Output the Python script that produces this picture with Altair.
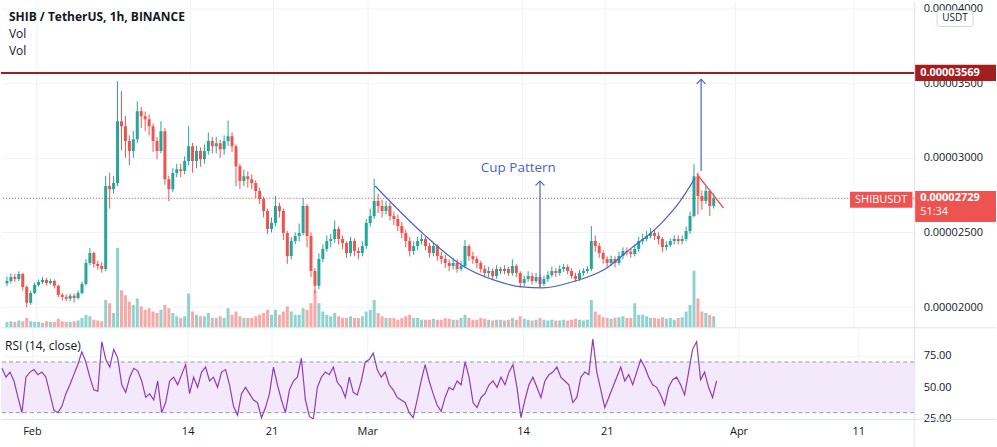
import altair as alt
import pandas as pd

# ---------------- data (prices in units of 1e-5 USDT, 8-hour candles) ----------------
first_open = 2.160
close = [
    2.175, 2.202,
    2.188, 2.222, 2.135,
    2.028, 2.095, 2.148,
    2.168, 2.182, 2.162,
    2.175, 2.142, 2.081,
    2.068, 2.055, 2.075,
    2.061, 2.095, 2.155,
    2.295, 2.362, 2.289,
    2.275, 2.255, 2.811,
    2.790, 2.831, 3.245,
    3.212, 3.112, 3.045,
    3.125, 3.312, 3.279,
    3.259, 3.212, 3.112,
    3.045, 3.178, 2.857,
    2.790, 2.898, 2.924,
    2.911, 2.978, 3.078,
    2.978, 3.045, 2.991,
    3.045, 3.112, 3.078,
    3.098, 3.058, 3.112,
    3.145, 3.078, 2.944,
    2.844, 2.877, 2.857,
    2.831, 2.777, 2.724,
    2.643, 2.523, 2.563,
    2.677, 2.643, 2.496,
    2.342, 2.443, 2.476,
    2.496, 2.677, 2.476,
    2.242, 2.142, 2.322,
    2.389, 2.443, 2.456,
    2.523, 2.456, 2.429,
    2.362, 2.443, 2.376,
    2.362, 2.409, 2.563,
    2.610, 2.710, 2.677,
    2.643, 2.677, 2.610,
    2.590, 2.543, 2.496,
    2.443, 2.376, 2.409,
    2.443, 2.456, 2.409,
    2.362, 2.409, 2.342,
    2.322, 2.295, 2.275,
    2.295, 2.255, 2.275,
    2.409, 2.342, 2.322,
    2.295, 2.255, 2.229,
    2.242, 2.208, 2.255,
    2.242, 2.255, 2.229,
    2.275, 2.229, 2.162,
    2.188, 2.208, 2.175,
    2.202, 2.155, 2.188,
    2.215, 2.242, 2.229,
    2.255, 2.269, 2.242,
    2.208, 2.188, 2.229,
    2.242, 2.255, 2.443,
    2.409, 2.362, 2.322,
    2.295, 2.322, 2.295,
    2.342, 2.376, 2.370,
    2.356, 2.389, 2.443,
    2.456, 2.476, 2.496,
    2.476, 2.456, 2.402,
    2.416, 2.443, 2.456,
    2.443, 2.456, 2.510,
    2.610, 2.877, 2.744,
    2.710, 2.777, 2.677,
    2.729,
]
high = [
    2.205, 2.225,
    2.222, 2.240, 2.230,
    2.145, 2.110, 2.165,
    2.185, 2.200, 2.195,
    2.190, 2.185, 2.150,
    2.095, 2.085, 2.090,
    2.090, 2.110, 2.170,
    2.320, 2.395, 2.370,
    2.310, 2.300, 2.880,
    2.900, 2.880, 3.513,
    3.446, 3.280, 3.150,
    3.180, 3.379, 3.340,
    3.310, 3.290, 3.230,
    3.140, 3.245, 3.200,
    2.880, 2.930, 2.960,
    2.960, 3.010, 3.212,
    3.100, 3.080, 3.070,
    3.090, 3.170, 3.140,
    3.140, 3.120, 3.150,
    3.250, 3.170, 3.090,
    2.960, 2.920, 2.910,
    2.890, 2.850, 2.800,
    2.740, 2.660, 2.600,
    2.744, 2.700, 2.660,
    2.510, 2.470, 2.500,
    2.560, 2.730, 2.690,
    2.500, 2.260, 2.360,
    2.420, 2.480, 2.490,
    2.580, 2.540, 2.480,
    2.440, 2.470, 2.460,
    2.400, 2.440, 2.590,
    2.660, 2.860, 2.760,
    2.720, 2.710, 2.700,
    2.640, 2.620, 2.570,
    2.520, 2.470, 2.440,
    2.470, 2.490, 2.470,
    2.430, 2.430, 2.420,
    2.370, 2.350, 2.320,
    2.330, 2.320, 2.310,
    2.450, 2.420, 2.370,
    2.340, 2.310, 2.280,
    2.270, 2.260, 2.280,
    2.270, 2.280, 2.270,
    2.320, 2.290, 2.240,
    2.210, 2.240, 2.230,
    2.230, 2.220, 2.210,
    2.240, 2.270, 2.260,
    2.280, 2.290, 2.285,
    2.260, 2.230, 2.250,
    2.260, 2.275, 2.543,
    2.480, 2.430, 2.380,
    2.340, 2.345, 2.340,
    2.370, 2.400, 2.400,
    2.390, 2.420, 2.470,
    2.490, 2.510, 2.530,
    2.520, 2.500, 2.470,
    2.440, 2.460, 2.480,
    2.480, 2.480, 2.540,
    2.640, 2.957, 2.900,
    2.780, 2.810, 2.790,
    2.760,
]
low = [
    2.140, 2.160,
    2.170, 2.175, 2.110,
    2.000, 2.015, 2.085,
    2.135, 2.155, 2.145,
    2.150, 2.125, 2.065,
    2.045, 2.040, 2.040,
    2.030, 2.050, 2.085,
    2.145, 2.280, 2.265,
    2.250, 2.230, 2.240,
    2.660, 2.760, 2.810,
    3.050, 3.000, 2.950,
    3.000, 3.100, 3.200,
    3.180, 3.150, 3.040,
    2.990, 3.030, 2.820,
    2.710, 2.770, 2.870,
    2.870, 2.890, 2.950,
    2.900, 2.930, 2.940,
    2.960, 3.020, 3.030,
    3.030, 3.000, 3.020,
    3.080, 3.040, 2.810,
    2.790, 2.810, 2.800,
    2.790, 2.730, 2.690,
    2.600, 2.490, 2.500,
    2.540, 2.600, 2.450,
    2.290, 2.320, 2.420,
    2.440, 2.480, 2.400,
    2.200, 2.090, 2.120,
    2.300, 2.370, 2.400,
    2.430, 2.420, 2.390,
    2.330, 2.340, 2.340,
    2.320, 2.340, 2.390,
    2.540, 2.590, 2.630,
    2.600, 2.620, 2.580,
    2.550, 2.510, 2.460,
    2.400, 2.340, 2.350,
    2.380, 2.420, 2.380,
    2.330, 2.340, 2.310,
    2.290, 2.260, 2.240,
    2.250, 2.230, 2.240,
    2.260, 2.310, 2.290,
    2.260, 2.230, 2.200,
    2.200, 2.180, 2.190,
    2.220, 2.220, 2.210,
    2.210, 2.200, 2.130,
    2.140, 2.170, 2.150,
    2.160, 2.135, 2.140,
    2.170, 2.200, 2.200,
    2.210, 2.235, 2.220,
    2.190, 2.170, 2.175,
    2.210, 2.225, 2.240,
    2.370, 2.330, 2.290,
    2.270, 2.275, 2.265,
    2.280, 2.320, 2.345,
    2.330, 2.340, 2.370,
    2.420, 2.440, 2.460,
    2.450, 2.420, 2.370,
    2.380, 2.400, 2.420,
    2.420, 2.420, 2.440,
    2.490, 2.600, 2.620,
    2.650, 2.690, 2.610,
    2.660,
]
volume = [
    7, 8,
    7, 9, 8,
    12, 8, 7,
    7, 6, 8,
    7, 7, 11,
    8, 7, 7,
    8, 9, 12,
    16, 14, 10,
    9, 8, 34,
    30, 18, 98,
    46, 40, 32,
    28, 36, 26,
    22, 24, 20,
    18, 22, 28,
    24, 18, 14,
    12, 14, 42,
    20, 16, 14,
    14, 18, 12,
    12, 14, 12,
    24, 16, 20,
    14, 12, 12,
    12, 14, 16,
    18, 22, 16,
    22, 16, 20,
    26, 20, 16,
    16, 24, 22,
    30, 46, 30,
    20, 16, 14,
    18, 14, 12,
    12, 14, 12,
    12, 14, 20,
    22, 34, 18,
    14, 12, 12,
    12, 10, 12,
    14, 16, 12,
    12, 10, 10,
    10, 11, 10,
    10, 12, 11,
    10, 10, 12,
    16, 12, 10,
    10, 12, 11,
    10, 9, 10,
    10, 9, 10,
    12, 10, 14,
    11, 10, 9,
    10, 12, 10,
    9, 10, 9,
    9, 10, 9,
    10, 11, 10,
    9, 10, 34,
    20, 16, 13,
    12, 11, 12,
    13, 14, 12,
    12, 30, 16,
    16, 14, 12,
    12, 11, 13,
    11, 12, 10,
    12, 13, 20,
    28, 70, 36,
    20, 18, 16,
    14,
]
rsi = [
    65, 58,
    62, 55, 42,
    30, 58, 62,
    64, 60, 62,
    58, 45, 32,
    30, 35, 45,
    52, 60, 68,
    78, 70, 58,
    48, 47, 86,
    72, 66, 80,
    73, 52, 46,
    58, 65, 63,
    55, 42, 45,
    40, 55, 30,
    38, 55, 58,
    52, 60, 68,
    45, 58, 50,
    62, 66, 55,
    58, 50, 62,
    64, 52, 35,
    28, 45, 50,
    45, 40, 38,
    26, 34, 45,
    66, 52, 40,
    30, 48, 55,
    58, 73, 40,
    27, 25, 50,
    58, 62, 60,
    66, 54, 50,
    42, 58, 46,
    44, 55, 70,
    72, 77, 64,
    58, 62, 52,
    48, 42, 40,
    38, 30, 26,
    40, 55, 68,
    55, 45, 36,
    31, 42, 50,
    48, 55, 52,
    70, 58, 38,
    34, 42, 45,
    52, 55, 50,
    58, 52, 62,
    68, 50, 26,
    40, 52, 58,
    50, 42, 55,
    60, 62, 66,
    58, 55, 52,
    38, 42, 58,
    62, 60, 88,
    62, 48, 34,
    42, 50, 58,
    66, 55, 60,
    52, 62, 72,
    66, 58, 52,
    50, 44, 36,
    50, 56, 58,
    52, 44, 62,
    80, 86, 56,
    62, 50, 42,
    55,
]

# drawings (day = days since 1 Feb 2021, price in 1e-5)
cup_day = [28.58, 32.67, 36.0, 38.83, 41.0, 42.67, 45.5, 48.0, 49.92, 52.67, 54.33, 55.58]
cup_price = [2.811, 2.489, 2.275, 2.175, 2.135, 2.128, 2.175, 2.255, 2.376, 2.556, 2.710, 2.864]
arrow_day = [42.5, 56.1]
arrow_from = [2.128, 2.911]
arrow_to = [2.844, 3.526]
trend_day = [55.75, 58.0]
trend_price = [2.891, 2.663]
resistance = 3.569
last_price = 2.729

tick_days = [0, 13, 20, 28, 41, 48, 59, 69]
tick_labels = ["Feb", "14", "21", "Mar", "14", "21", "Apr", "11"]
price_ticks = [2.0, 2.5, 3.0, 3.5, 4.0]
rsi_ticks = [25, 50, 75]

# ---------------- build ----------------
n = min(len(close), len(high), len(low), len(volume), len(rsi))
close, high, low, volume, rsi = close[:n], high[:n], low[:n], volume[:n], rsi[:n]
times = pd.date_range("2021-01-29 08:00", periods=n, freq="8h")
day = ((times + pd.Timedelta(hours=4)) - pd.Timestamp("2021-02-01")) / pd.Timedelta(days=1)
opens = [first_open] + close[:-1]
df = pd.DataFrame({"day": day, "open": opens, "close": close, "high": high,
                   "low": low, "volume": volume, "rsi": rsi})
df["dir"] = ["up" if c >= o else "down" for o, c in zip(opens, close)]

FONT = "Open Sans"
UP, DOWN = "#26a69a", "#ef5350"
BLUE = "#4a62cc"
W, H_MAIN, H_RSI = 915, 327, 92

xs = alt.Scale(domain=[-31 / 12, 884 / 12], nice=False, zero=False)
PS = alt.Scale(domain=[1.861, 4.048], nice=False, zero=False)
RS = alt.Scale(domain=[24.5, 97], nice=False, zero=False)
xenc = alt.X("day:Q", scale=xs, axis=None)
cenc = alt.Color("dir:N", scale=alt.Scale(domain=["up", "down"], range=[UP, DOWN]), legend=None)

price_axis = alt.Axis(orient="right", values=price_ticks,
                      labelExpr="'0.0000' + format(datum.value*1000, 'd')",
                      grid=True, gridColor="#f0f3fa", ticks=False, domain=True,
                      domainColor="#e0e3eb", labelFont=FONT, labelFontSize=11,
                      labelColor="#131722", labelPadding=9, title=None)

one = pd.DataFrame({"k": [0]})
base = alt.Chart(df)

grid_main = alt.Chart(pd.DataFrame({"day": tick_days})).mark_rule(
    color="#f0f3fa", strokeWidth=1).encode(x=xenc)

vol = base.mark_bar(size=3, opacity=0.5, clip=True).encode(
    x=xenc, y=alt.Y("volume:Q", scale=alt.Scale(domain=[0, 400]), axis=None), color=cenc)

wick = base.mark_rule(strokeWidth=1, clip=True).encode(
    x=xenc, y=alt.Y("low:Q", scale=PS, axis=price_axis, title=None), y2="high:Q", color=cenc)
body = base.mark_bar(size=3, clip=True).encode(
    x=xenc, y=alt.Y("open:Q", scale=PS, title=None), y2="close:Q", color=cenc)

res_line = alt.Chart(pd.DataFrame({"p": [resistance]})).mark_rule(
    color="#a31f1f", strokeWidth=2).encode(y=alt.Y("p:Q", scale=PS, title=None))
last_line = alt.Chart(pd.DataFrame({"p": [last_price]})).mark_rule(
    color="#c24040", strokeWidth=1, strokeDash=[1, 2]).encode(y=alt.Y("p:Q", scale=PS, title=None))

cup = alt.Chart(pd.DataFrame({"day": cup_day, "p": cup_price})).mark_line(
    color=BLUE, strokeWidth=1.2, interpolate="monotone").encode(
    x=xenc, y=alt.Y("p:Q", scale=PS, title=None))

adf = pd.DataFrame({"day": arrow_day, "a": arrow_from, "b": arrow_to})
arrows = alt.Chart(adf).mark_rule(color=BLUE, strokeWidth=1.2).encode(
    x=xenc, y=alt.Y("a:Q", scale=PS, title=None), y2="b:Q")
heads = alt.Chart(adf).mark_point(shape="M -1 1 L 0 0 L 1 1", filled=False, size=81,
                                  color=BLUE, strokeWidth=1.2, opacity=1).encode(
    x=xenc, y=alt.Y("b:Q", scale=PS, title=None))

trend = alt.Chart(pd.DataFrame({"day": trend_day, "p": trend_price})).mark_line(
    color="#ef5350", strokeWidth=1.5).encode(x=xenc, y=alt.Y("p:Q", scale=PS, title=None))

cup_text = alt.Chart(pd.DataFrame({"day": [40.67], "p": [2.929], "t": ["Cup Pattern"]})).mark_text(
    font=FONT, fontSize=13.5, color=BLUE).encode(x=xenc, y=alt.Y("p:Q", scale=PS, title=None), text="t:N")


def label_txt(v):
    return "0.0000" + str(int(round(v * 1000)))


tag_df = pd.DataFrame({"p": [resistance], "t": [label_txt(resistance)]})
tagA = alt.Chart(tag_df).mark_point(shape="M -1 -0.2 L 1 -0.2 L 1 0.2 L -1 0.2 Z", filled=True,
                                    size=6561, color="#a31f1f", opacity=1).encode(
    x=alt.value(956.5), y=alt.Y("p:Q", scale=PS, title=None))
tagA_t = alt.Chart(tag_df).mark_text(font=FONT, fontSize=11, fontWeight="bold", color="white",
                                     align="left", baseline="middle").encode(
    x=alt.value(921), y=alt.Y("p:Q", scale=PS, title=None), text="t:N")

last_df = pd.DataFrame({"p": [last_price], "t": [label_txt(last_price)], "c": ["51:34"], "s": ["SHIBUSDT"]})
tagB = alt.Chart(last_df).mark_point(shape="M -1 -0.18 L 1 -0.18 L 1 0.59 L -1 0.59 Z", filled=True,
                                     size=6561, color="#ef5350", opacity=1).encode(
    x=alt.value(956.5), y=alt.Y("p:Q", scale=PS, title=None))
tagB_t = alt.Chart(last_df).mark_text(font=FONT, fontSize=11, fontWeight="bold", color="white",
                                      align="left", baseline="middle").encode(
    x=alt.value(921), y=alt.Y("p:Q", scale=PS, title=None), text="t:N")
tagB_c = alt.Chart(last_df).mark_text(font=FONT, fontSize=11, color="white",
                                      align="left", baseline="middle", dy=14).encode(
    x=alt.value(921), y=alt.Y("p:Q", scale=PS, title=None), text="c:N")
tagC = alt.Chart(last_df).mark_point(shape="M -1 -0.21 L 1 -0.21 L 1 0.30 L -1 0.30 Z", filled=True,
                                     size=3919, color="#ef5350", opacity=1).encode(
    x=alt.value(882), y=alt.Y("p:Q", scale=PS, title=None))
tagC_t = alt.Chart(last_df).mark_text(font=FONT, fontSize=11, color="white",
                                      align="center", baseline="middle", dy=1.5).encode(
    x=alt.value(882), y=alt.Y("p:Q", scale=PS, title=None), text="s:N")

usdt_box = alt.Chart(one).mark_rect(fill="white", stroke="#d1d4dc", strokeWidth=1, cornerRadius=2).encode(
    x=alt.value(938), x2=alt.value(974), y=alt.value(9), y2=alt.value(25))
usdt_t = alt.Chart(pd.DataFrame({"t": ["USDT"]})).mark_text(
    font=FONT, fontSize=10, color="#131722", align="center", baseline="middle").encode(
    x=alt.value(956), y=alt.value(17), text="t:N")

title_t = alt.Chart(pd.DataFrame({"t": ["SHIB / TetherUS, 1h, BINANCE"]})).mark_text(
    font=FONT, fontSize=12, fontWeight="bold", color="#131722", align="left", baseline="middle").encode(
    x=alt.value(8), y=alt.value(16), text="t:N")
vol1 = alt.Chart(pd.DataFrame({"t": ["Vol"]})).mark_text(
    font=FONT, fontSize=12, color="#131722", align="left", baseline="middle").encode(
    x=alt.value(8), y=alt.value(33), text="t:N")
vol2 = alt.Chart(pd.DataFrame({"t": ["Vol"]})).mark_text(
    font=FONT, fontSize=12, color="#131722", align="left", baseline="middle").encode(
    x=alt.value(8), y=alt.value(50), text="t:N")

price_layers = alt.layer(grid_main, wick, body, res_line, last_line, cup, arrows, heads, trend,
                         cup_text, tagA, tagA_t, tagB, tagB_t, tagB_c, tagC, tagC_t,
                         usdt_box, usdt_t, title_t, vol1, vol2)
main = alt.layer(vol, price_layers).resolve_scale(y="independent").properties(width=W, height=H_MAIN)

# ---------------- RSI pane ----------------
xlab_expr = "".join(f"datum.value == {d} ? '{l}' : " for d, l in zip(tick_days, tick_labels)) + "''"
x_axis = alt.Axis(values=tick_days, labelExpr=xlab_expr, grid=True, gridColor="#f0f3fa",
                  ticks=False, domain=False, labelFont=FONT, labelFontSize=11,
                  labelColor="#131722", labelPadding=6, title=None)
rsi_axis = alt.Axis(orient="right", values=rsi_ticks, format=".2f", grid=True, gridColor="#f0f3fa",
                    ticks=False, domain=True, domainColor="#e0e3eb", labelFont=FONT, labelFontSize=11,
                    labelColor="#131722", labelPadding=9, title=None)

rsi_line = base.mark_line(color="#8e3db8", strokeWidth=1.2, clip=True).encode(
    x=alt.X("day:Q", scale=xs, axis=x_axis),
    y=alt.Y("rsi:Q", scale=RS, axis=rsi_axis, title=None))
band = alt.Chart(one).mark_rect(color="#f3e9fb").encode(
    x=alt.value(0), x2=alt.value(W), y=alt.datum(70), y2=alt.datum(30))
dash = alt.Chart(pd.DataFrame({"r": [70, 30]})).mark_rule(
    color="#9598a1", strokeWidth=1, strokeDash=[4, 3]).encode(y=alt.Y("r:Q", scale=RS, title=None))
sep_top = alt.Chart(one).mark_rule(color="#e0e3eb", strokeWidth=1).encode(
    x=alt.value(0), x2=alt.value(997), y=alt.value(0))
sep_bot = alt.Chart(one).mark_rule(color="#e0e3eb", strokeWidth=1).encode(
    x=alt.value(0), x2=alt.value(997), y=alt.value(H_RSI))
vline = alt.Chart(one).mark_rule(color="#e0e3eb", strokeWidth=1).encode(
    x=alt.value(W), y=alt.value(H_RSI), y2=alt.value(H_RSI + 28))
rsi_t = alt.Chart(pd.DataFrame({"t": ["RSI (14, close)"]})).mark_text(
    font=FONT, fontSize=12, color="#131722", align="left", baseline="middle").encode(
    x=alt.value(4), y=alt.value(18), text="t:N")

rsi_chart = alt.layer(band, dash, rsi_line, sep_top, sep_bot, vline, rsi_t).properties(width=W, height=H_RSI)

chart = alt.vconcat(main, rsi_chart, spacing=0, bounds="flush").properties(
    padding=0, background="white").configure_view(stroke=None)

chart.save("out.html", embed_options={"renderer": "svg", "actions": False})
